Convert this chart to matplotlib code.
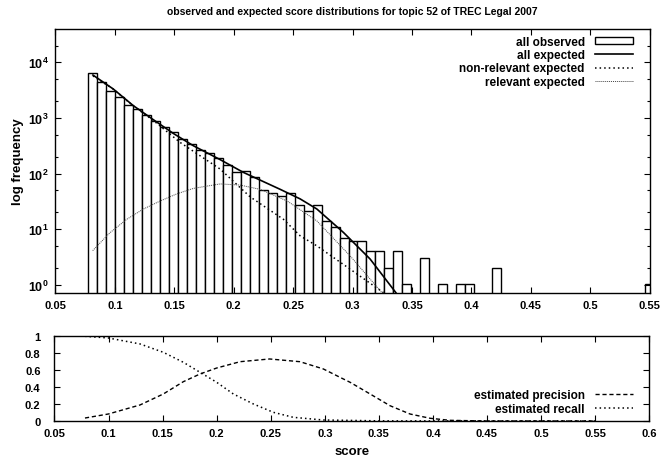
import numpy as np
import matplotlib
matplotlib.use('Agg')
import matplotlib.pyplot as plt
from matplotlib.ticker import FixedLocator, FixedFormatter, NullFormatter

plt.rcParams['font.family'] = ['Liberation Sans', 'DejaVu Sans']
plt.rcParams['font.weight'] = 'bold'
plt.rcParams['mathtext.fontset'] = 'custom'
plt.rcParams['mathtext.rm'] = 'Liberation Sans:bold'
plt.rcParams['mathtext.it'] = 'Liberation Sans:bold'
plt.rcParams['mathtext.bf'] = 'Liberation Sans:bold'

# histogram of observed scores (63 bins)
bin_start = 0.0776
bin_width = 0.00755
counts = [6300, 4370, 3050, 2350, 1725, 1430, 1115, 890, 686, 550,
          418, 335, 270, 232, 188, 144, 105, 112, 88, 50,
          45, 40, 44, 27, 21, 27, 14, 11, 7, 6,
          6, 4, 4, 2, 4, 1, 0, 3, 0, 1,
          0, 1, 1, 0, 0, 2, 0, 0, 0, 0,
          0, 0, 0, 0, 0, 0, 0, 0, 0, 0,
          0, 0, 1]

# expected curves
all_x = [0.0815, 0.0987, 0.1155, 0.1323, 0.1492, 0.166, 0.1885, 0.208, 0.239,
         0.2558, 0.2699, 0.2923, 0.3147, 0.3364]
all_y = [5900, 3300, 1660, 930, 525, 316, 178, 105, 52, 35, 23, 8.7, 2.9, 0.72]

nonrel_x = [0.0815, 0.0987, 0.1155, 0.1323, 0.1548, 0.1716, 0.1886, 0.2138,
            0.2418, 0.2558, 0.2699, 0.298, 0.326]
nonrel_y = [5700, 3290, 1640, 900, 363, 209, 120, 38, 15, 7.6, 5, 1.9, 0.72]

rel_x = [0.0813, 0.0955, 0.1099, 0.124, 0.138, 0.152, 0.166, 0.1885, 0.2053,
         0.222, 0.245, 0.27, 0.2979, 0.3246]
rel_y = [4.1, 8.5, 15, 23, 32, 43, 54, 65, 62, 52, 32, 14, 3.3, 0.72]

prec_x = [0.0782, 0.0998, 0.1291, 0.1507, 0.1692, 0.1846, 0.2, 0.2216, 0.249,
          0.2771, 0.2987, 0.3141, 0.3234, 0.3419, 0.3604, 0.3789, 0.3974,
          0.4159, 0.45, 0.55]
prec_y = [0.035, 0.082, 0.188, 0.317, 0.461, 0.551, 0.621, 0.695, 0.727,
          0.695, 0.61, 0.512, 0.454, 0.317, 0.179, 0.082, 0.032, 0.008, 0.0, 0.0]

rec_x = [0.0782, 0.0998, 0.1291, 0.1507, 0.1692, 0.1846, 0.2, 0.2154, 0.2339,
         0.2524, 0.2709, 0.2987, 0.35, 0.55]
rec_y = [0.993, 0.973, 0.903, 0.805, 0.688, 0.571, 0.454, 0.317, 0.2,
         0.102, 0.043, 0.012, 0.002, 0.0]

fig = plt.figure(figsize=(6.63, 4.64), dpi=100)
ax1 = fig.add_axes([0.0837, 0.3664, 0.8963, 0.5689])
ax2 = fig.add_axes([0.0822, 0.0905, 0.8968, 0.1839])

lfs = 8.5

# top panel
counts = np.array(counts, dtype=float)
lefts = bin_start + bin_width * np.arange(len(counts))
mask = counts > 0
bars = ax1.bar(lefts[mask], counts[mask], width=bin_width, align='edge', bottom=0.01,
               facecolor='white', edgecolor='black', linewidth=1.0, label='all observed')
l_all, = ax1.plot(all_x, all_y, color='black', lw=1.2, label='all expected')
l_non, = ax1.plot(nonrel_x, nonrel_y, color='black', lw=1.1, linestyle=(0, (1, 2)),
                  label='non-relevant expected')
l_rel, = ax1.plot(rel_x, rel_y, color='#444444', lw=0.7, linestyle=(0, (1, 1)),
                  label='relevant expected')
ax1.set_yscale('log')
ax1.set_xlim(0.05, 0.55)
ax1.set_ylim(0.71, 39700)
ax1.xaxis.set_major_locator(FixedLocator(np.arange(0.05, 0.551, 0.05)))
ax1.xaxis.set_major_formatter(FixedFormatter(['0.05', '0.1', '0.15', '0.2', '0.25', '0.3',
                                              '0.35', '0.4', '0.45', '0.5', '0.55']))
ax1.yaxis.set_major_locator(FixedLocator([1, 10, 100, 1000, 10000]))
ax1.yaxis.set_major_formatter(FixedFormatter(['$10^{0}$', '$10^{1}$', '$10^{2}$',
                                              '$10^{3}$', '$10^{4}$']))
ax1.yaxis.set_minor_locator(FixedLocator([2, 5, 20, 50, 200, 500, 2000, 5000, 20000]))
ax1.yaxis.set_minor_formatter(NullFormatter())
ax1.set_ylabel('log frequency', fontsize=9.5, fontweight='bold', labelpad=3)
ax1.set_title('observed and expected score distributions for topic 52 of TREC Legal 2007',
              fontsize=7.5, fontweight='bold', pad=11)
ax1.legend([bars, l_all, l_non, l_rel],
           ['all observed', 'all expected', 'non-relevant expected', 'relevant expected'],
           loc='upper right', bbox_to_anchor=(0.972, 0.975), frameon=False,
           markerfirst=False, fontsize=lfs, handlelength=3.2, handleheight=0.5,
           handletextpad=0.9, labelspacing=0.12, borderpad=0, borderaxespad=0)

# bottom panel
ax2.plot(prec_x, prec_y, color='black', lw=1.0, linestyle=(0, (3, 2)),
         label='estimated precision')
ax2.plot(rec_x, rec_y, color='black', lw=1.1, linestyle=(0, (1, 2)),
         label='estimated recall')
ax2.set_xlim(0.05, 0.6)
ax2.set_ylim(0, 1)
ax2.xaxis.set_major_locator(FixedLocator(np.arange(0.05, 0.601, 0.05)))
ax2.xaxis.set_major_formatter(FixedFormatter(['0.05', '0.1', '0.15', '0.2', '0.25', '0.3',
                                              '0.35', '0.4', '0.45', '0.5', '0.55', '0.6']))
ax2.yaxis.set_major_locator(FixedLocator([0, 0.2, 0.4, 0.6, 0.8, 1.0]))
ax2.yaxis.set_major_formatter(FixedFormatter(['0', '0.2', '0.4', '0.6', '0.8', '1']))
ax2.set_xlabel('score', fontsize=9.5, fontweight='bold', labelpad=5)
ax2.legend(loc='upper right', bbox_to_anchor=(0.973, 0.37), frameon=False,
           markerfirst=False, fontsize=lfs, handlelength=3.2,
           handletextpad=0.9, labelspacing=0.12, borderpad=0, borderaxespad=0)

for ax in (ax1, ax2):
    ax.tick_params(which='both', direction='in', top=True, right=True,
                   labelsize=8, width=0.8)
    ax.tick_params(which='major', length=4)
    ax.tick_params(which='minor', length=2)
    ax.tick_params(axis='x', pad=5)
    for s in ax.spines.values():
        s.set_linewidth(1.0)
ax1.tick_params(axis='y', pad=5, labelsize=9)
ax2.tick_params(axis='y', pad=10)

fig.savefig('out.png', dpi=100)
